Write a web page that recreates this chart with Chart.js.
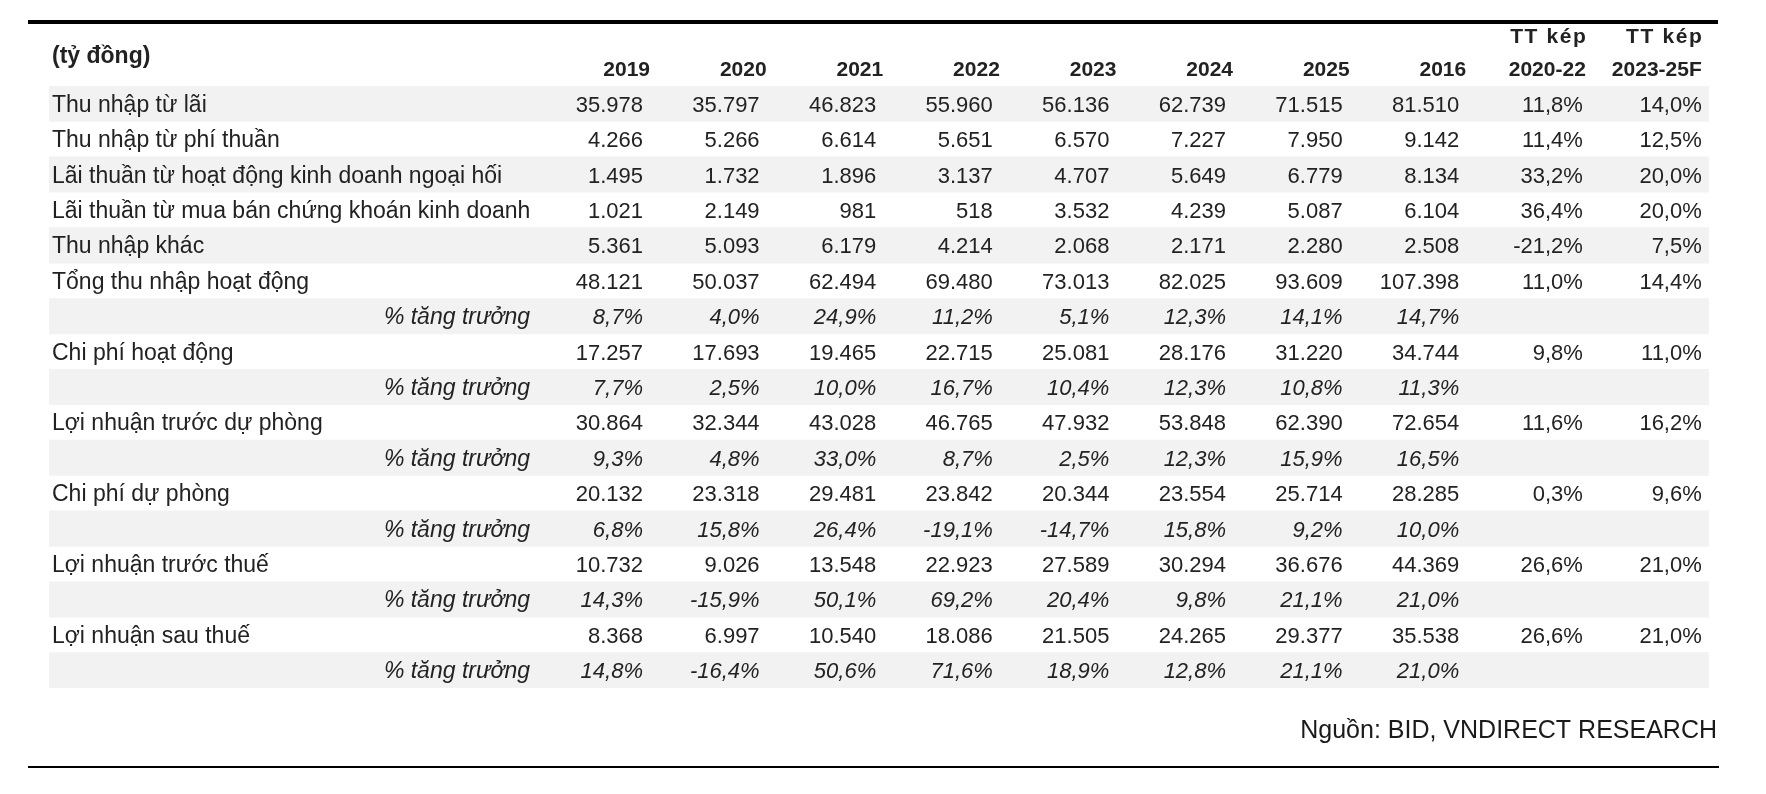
<!DOCTYPE html>
<html>
<head>
<meta charset="utf-8">
<script src="https://cdn.jsdelivr.net/npm/chart.js@4"></script>
<style>
html,body{margin:0;padding:0;background:#fff;}
#wrap{width:1766px;height:794px;position:relative;}
</style>
</head>
<body>
<div id="wrap"><canvas id="c" width="1766" height="794"></canvas></div>
<script>
// ---- DATA ----
const unitLabel = '(tỷ đồng)';
const years = ['2019', '2020', '2021', '2022', '2023', '2024', '2025', '2016'];
const cagrHeaders = [['TT kép', '2020-22'], ['TT kép', '2023-25F']];
const sourceNote = 'Nguồn: BID, VNDIRECT RESEARCH';
const growthLabel = '% tăng trưởng';

const rowLabels = [
  'Thu nhập từ lãi',
  'Thu nhập từ phí thuần',
  'Lãi thuần từ hoạt động kinh doanh ngoại hối',
  'Lãi thuần từ mua bán chứng khoán kinh doanh',
  'Thu nhập khác',
  'Tổng thu nhập hoạt động',
  growthLabel,
  'Chi phí hoạt động',
  growthLabel,
  'Lợi nhuận trước dự phòng',
  growthLabel,
  'Chi phí dự phòng',
  growthLabel,
  'Lợi nhuận trước thuế',
  growthLabel,
  'Lợi nhuận sau thuế',
  growthLabel
];

const thuNhapLai      = [35978, 35797, 46823, 55960, 56136, 62739, 71515, 81510];
const thuNhapPhi      = [4266, 5266, 6614, 5651, 6570, 7227, 7950, 9142];
const laiNgoaiHoi     = [1495, 1732, 1896, 3137, 4707, 5649, 6779, 8134];
const laiChungKhoan   = [1021, 2149, 981, 518, 3532, 4239, 5087, 6104];
const thuNhapKhac     = [5361, 5093, 6179, 4214, 2068, 2171, 2280, 2508];
const tongThuNhap     = [48121, 50037, 62494, 69480, 73013, 82025, 93609, 107398];
const tongThuNhapG    = [8.7, 4.0, 24.9, 11.2, 5.1, 12.3, 14.1, 14.7];
const chiPhiHD        = [17257, 17693, 19465, 22715, 25081, 28176, 31220, 34744];
const chiPhiHDG       = [7.7, 2.5, 10.0, 16.7, 10.4, 12.3, 10.8, 11.3];
const lnTruocDP       = [30864, 32344, 43028, 46765, 47932, 53848, 62390, 72654];
const lnTruocDPG      = [9.3, 4.8, 33.0, 8.7, 2.5, 12.3, 15.9, 16.5];
const chiPhiDP        = [20132, 23318, 29481, 23842, 20344, 23554, 25714, 28285];
const chiPhiDPG       = [6.8, 15.8, 26.4, -19.1, -14.7, 15.8, 9.2, 10.0];
const lnTruocThue     = [10732, 9026, 13548, 22923, 27589, 30294, 36676, 44369];
const lnTruocThueG    = [14.3, -15.9, 50.1, 69.2, 20.4, 9.8, 21.1, 21.0];
const lnSauThue       = [8368, 6997, 10540, 18086, 21505, 24265, 29377, 35538];
const lnSauThueG      = [14.8, -16.4, 50.6, 71.6, 18.9, 12.8, 21.1, 21.0];

// compound growth columns (%), null = empty
const cagr2020_22 = [11.8, 11.4, 33.2, 36.4, -21.2, 11.0, null, 9.8, null, 11.6, null, 0.3, null, 26.6, null, 26.6, null];
const cagr2023_25 = [14.0, 12.5, 20.0, 20.0, 7.5, 14.4, null, 11.0, null, 16.2, null, 9.6, null, 21.0, null, 21.0, null];

const rowValues = [thuNhapLai, thuNhapPhi, laiNgoaiHoi, laiChungKhoan, thuNhapKhac,
  tongThuNhap, tongThuNhapG, chiPhiHD, chiPhiHDG, lnTruocDP, lnTruocDPG,
  chiPhiDP, chiPhiDPG, lnTruocThue, lnTruocThueG, lnSauThue, lnSauThueG];

// ---- LAYOUT (positions / styles only) ----
const colPos = [0, 1, 2, 3, 4, 5, 6, 7, 8.06, 9.08]; // column right edges on x scale
const X_MIN = -5.094, X_MAX = 9.142;
const FONT = "'Liberation Sans', Arial, sans-serif";
const TXT = '#222222';
const BAND = '#f2f2f2';

// ---- helpers ----
function fmtInt(v) {
  const s = Math.abs(v).toString();
  let out = '';
  for (let i = 0; i < s.length; i++) {
    if (i > 0 && (s.length - i) % 3 === 0) out += '.';
    out += s[i];
  }
  return (v < 0 ? '-' : '') + out;
}
function fmtPct(v) {
  return v.toFixed(1).replace('.', ',') + '%';
}
const isGrowth = rowLabels.map(l => l === growthLabel);

const bandData = rowLabels.map((_, i) => (i % 2 === 0 ? [X_MIN, X_MAX] : null));

const tablePlugin = {
  id: 'tablePlugin',
  afterDatasetsDraw(chart) {
    const ctx = chart.ctx;
    const xs = chart.scales.x, ys = chart.scales.y;
    ctx.save();
    ctx.fillStyle = '#000';
    // rules
    ctx.fillRect(28, 20, 1690, 4);
    ctx.fillRect(28, 766, 1691, 2);

    // header
    ctx.fillStyle = TXT;
    ctx.textBaseline = 'alphabetic';
    ctx.font = 'bold 23px ' + FONT;
    ctx.textAlign = 'left';
    ctx.fillText(unitLabel, 52, 63);
    ctx.font = 'bold 21px ' + FONT;
    ctx.textAlign = 'right';
    years.forEach((y, j) => {
      ctx.fillText(y, xs.getPixelForValue(colPos[j]) + 7, 76);
    });
    cagrHeaders.forEach((h, k) => {
      const j = years.length + k;
      const off = k === 0 ? 3 : 0;
      const xp = xs.getPixelForValue(colPos[j]) + off;
      ctx.letterSpacing = '1.6px';
      ctx.fillText(h[0], xp + 1.6, 43);
      ctx.letterSpacing = '0px';
      ctx.fillText(h[1], xp, 76);
    });

    // rows
    rowLabels.forEach((lab, i) => {
      const yc = ys.getPixelForValue(i) + 8;
      const g = isGrowth[i];
      ctx.font = (g ? 'italic ' : '') + '23px ' + FONT;
      if (g) { ctx.textAlign = 'right'; ctx.fillText(lab, 530, yc); }
      else { ctx.textAlign = 'left'; ctx.fillText(lab, 52, yc); }
      ctx.font = (g ? 'italic ' : '') + '22px ' + FONT;
      ctx.textAlign = 'right';
      rowValues[i].forEach((v, j) => {
        const s = g ? fmtPct(v) : fmtInt(v);
        ctx.fillText(s, xs.getPixelForValue(colPos[j]), yc);
      });
      ctx.font = '22px ' + FONT;
      if (cagr2020_22[i] !== null) ctx.fillText(fmtPct(cagr2020_22[i]), xs.getPixelForValue(colPos[8]), yc);
      if (cagr2023_25[i] !== null) ctx.fillText(fmtPct(cagr2023_25[i]), xs.getPixelForValue(colPos[9]), yc);
    });

    // source
    ctx.font = '25px ' + FONT;
    ctx.fillStyle = '#1a1a1a';
    ctx.textAlign = 'right';
    ctx.fillText(sourceNote, 1717, 738);
    ctx.restore();
  }
};

new Chart(document.getElementById('c'), {
  type: 'bar',
  data: {
    labels: rowLabels,
    datasets: [{
      data: bandData,
      backgroundColor: BAND,
      borderWidth: 0,
      barPercentage: 1,
      categoryPercentage: 1,
      grouped: false
    }]
  },
  options: {
    indexAxis: 'y',
    responsive: false,
    animation: false,
    devicePixelRatio: 1,
    layout: { padding: { left: 49, right: 57, top: 86, bottom: 106 } },
    plugins: { legend: { display: false }, tooltip: { enabled: false } },
    scales: {
      x: { type: 'linear', min: X_MIN, max: X_MAX, display: false },
      y: { type: 'category', display: false, offset: true }
    }
  },
  plugins: [tablePlugin]
});
</script>
</body>
</html>
